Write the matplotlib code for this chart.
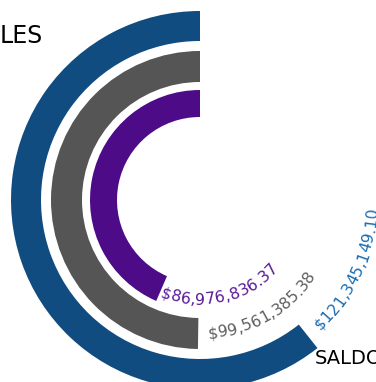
import numpy as np
import matplotlib
matplotlib.use('Agg')
import matplotlib.pyplot as plt
from matplotlib.font_manager import FontProperties

### Data
values = [121345149.10, 99561385.38, 86976836.37]
max_value = 200000000.0
value_labels = ['$121,345,149.10', '$99,561,385.38', '$86,976,836.37']

### Style
bar_colors = ['#114c81', '#555555', '#4d0b87']
text_colors = ['#1a6db3', '#5f5f5f', '#5a1a98']
inner_r = [159, 118, 83]
outer_r = [189, 149, 110]
text_r = [173, 134, 100]
text_gap = [4.2, 4.2, 0.6]   # degrees between bar end and label
font_size = 11.3

fig = plt.figure(figsize=(3.76, 3.82), dpi=100)
# polar axes so that the centre lands at pixel (200, 200), radius 190 px
ax = fig.add_axes([10 / 376, -8 / 382, 380 / 376, 380 / 382], projection='polar')
ax.set_theta_zero_location('N')
ax.set_theta_direction(1)
ax.set_ylim(0, 190)
ax.axis('off')

for v, c, r0, r1 in zip(values, bar_colors, inner_r, outer_r):
    ax.bar(0, r1 - r0, width=v / max_value * 2 * np.pi, bottom=r0,
           align='edge', color=c, linewidth=0)

### Labels bent along the rings
renderer = fig.canvas.get_renderer()
prop = FontProperties(family='DejaVu Sans', size=font_size)


def width_px(s):
    if not s:
        return 0.0
    w, h, d = renderer.get_text_width_height_descent(s, prop, ismath=False)
    return w


for v, lab, col, r, gap in zip(values, value_labels, text_colors, text_r, text_gap):
    start = np.degrees(v / max_value * 2 * np.pi) + gap
    for i, ch in enumerate(lab):
        mid = (width_px(lab[:i]) + width_px(lab[:i + 1])) / 2
        th = np.radians(start) + mid / r
        ax.text(th, r, ch, color=col, fontproperties=prop,
                rotation=np.degrees(th) - 180, rotation_mode='anchor',
                ha='center', va='center', clip_on=False)

fig.text(0 / 376, 1 - 43 / 382, 'LES', fontsize=17, color='black',
         ha='left', va='baseline')
fig.text(315 / 376, 1 - 364 / 382, 'SALDO', fontsize=14, color='black',
         ha='left', va='baseline')

fig.savefig('out.png', dpi=100)
